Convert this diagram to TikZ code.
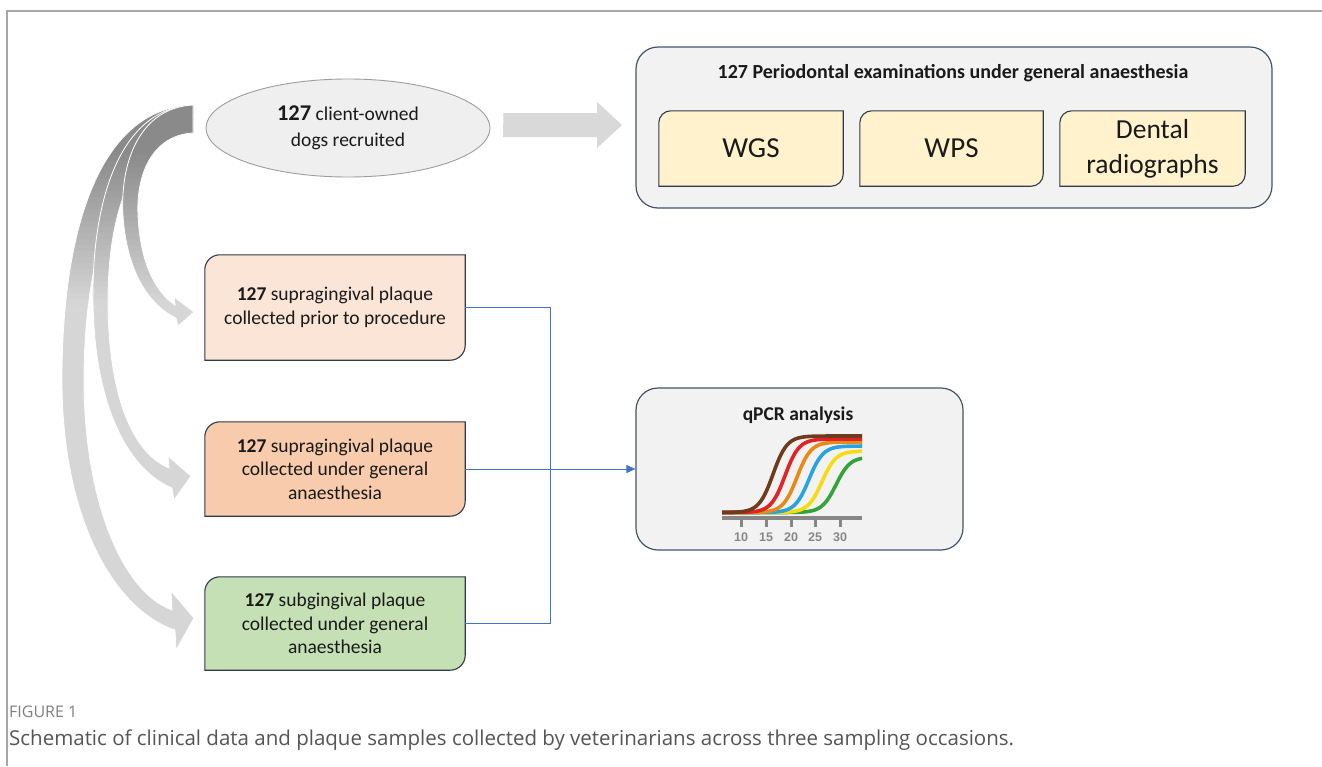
\documentclass[tikz,border=0pt]{standalone}
\usepackage{fontspec}
\setmainfont{Carlito}
\newfontfamily\capfont{Open Sans}
\newfontfamily\axisfont{Liberation Sans}
\usetikzlibrary{shapes.geometric,calc,arrows.meta}
\definecolor{framegray}{HTML}{A6A6A6}
\definecolor{boxfill}{HTML}{F2F2F2}
\definecolor{boxedge}{HTML}{44546A}
\definecolor{ellfill}{HTML}{EFEFEF}
\definecolor{elledge}{HTML}{9E9E9E}
\definecolor{yel}{HTML}{FFF2CC}
\definecolor{peach}{HTML}{FBE5D6}
\definecolor{salmon}{HTML}{F8CBAD}
\definecolor{mint}{HTML}{C5E0B4}
\definecolor{darkedge}{HTML}{2F3A4A}
\definecolor{connblue}{HTML}{4472C4}
\definecolor{arlight}{HTML}{D6D6D6}
\definecolor{ardark}{HTML}{8A8A8A}
\definecolor{blockgray}{HTML}{D9D9D9}
\definecolor{txt}{HTML}{1A1A1A}
\definecolor{axgray}{HTML}{878787}
\definecolor{qbrown}{HTML}{6E3B1E}
\definecolor{qred}{HTML}{E32224}
\definecolor{qorange}{HTML}{E88A17}
\definecolor{qblue}{HTML}{29A3DC}
\definecolor{qyellow}{HTML}{F7DB12}
\definecolor{qgreen}{HTML}{34A33A}
\definecolor{capgray}{HTML}{7F7F7F}
\definecolor{captext}{HTML}{555555}
\pgfdeclarelayer{back}
\pgfdeclarelayer{mid}
\pgfsetlayers{back,mid,main}
% round-diagonal-corner rectangle behind node #1, style #2, radius #3
\newcommand\rdshape[3]{%
  \path[#2] ($(#1.north west)+(0,#3)$)
    .. controls ($(#1.north west)+(0,0.45*#3)$) and ($(#1.north west)+(0.45*#3,0)$) .. ($(#1.north west)+(#3,0)$)
    -- (#1.north east) -- ($(#1.south east)+(0,-#3)$)
    .. controls ($(#1.south east)+(0,-0.45*#3)$) and ($(#1.south east)+(-0.45*#3,0)$) .. ($(#1.south east)+(-#3,0)$)
    -- (#1.south west) -- cycle;}
\begin{document}
\begin{tikzpicture}[x=1pt,y=-1pt,
  bigbox/.style={draw=boxedge, line width=1.2pt, fill=boxfill, rounded corners=22pt, inner sep=0pt},
  tbox/.style={inner sep=0pt, align=center, text=txt},
  diagline/.style={draw=darkedge, line width=1.1pt},
  conn/.style={draw=connblue, line width=0.9pt},
  carrow/.style={fill=arlight, draw=white, line width=0.8pt, path picture={
     \foreach \i in {0,...,34}{%
       \pgfmathsetmacro\yy{95+6*\i}%
       \pgfmathsetmacro\pc{max(0,min(100,(300-\yy)/150*100))}%
       \fill[ardark!\pc!arlight] (0,\yy) rectangle (260,\yy+7);}}},
  curve/.style={line width=3.6pt}
]
\useasboundingbox (0,0) rectangle (1322,766);
\begin{pgfonlayer}{back}
\fill[white] (0,0) rectangle (1322,766);
\end{pgfonlayer}
% frame
\draw[framegray, line width=1.2pt] (7,766) -- (7,11) -- (1322,11);

% big boxes
\begin{pgfonlayer}{back}
\node[bigbox, minimum width=636pt, minimum height=161pt] (exam) at (954,127.5) {};
\node[bigbox, minimum width=327pt, minimum height=162pt] (qpcr) at (799.5,469) {};
\end{pgfonlayer}

% ellipse
\node[ellipse, draw=elledge, line width=0.9pt, fill=ellfill, minimum width=284pt, minimum height=98pt, inner sep=0pt, align=center, text=txt, font=\fontsize{19.5}{26}\selectfont] (dogs) at (348,128)
 {{\fontsize{22.5}{26}\selectfont\bfseries 127} client-owned\\dogs recruited};

% block arrow
\fill[blockgray] ($(dogs.east)+(13,-15)$) coordinate (ba) -- (597,113) -- (597,102) -- (622,125) -- (597,148) -- (597,137) -- (503,137) -- cycle;

% exam title and inner boxes
\node[tbox, font=\fontsize{20}{22}\selectfont\bfseries] (title) at (953,73) {127 Periodontal examinations under general anaesthesia};
\node[tbox, minimum width=184pt, minimum height=75pt, font=\fontsize{29}{34}\selectfont] (wgs) at (751,148.5) {WGS};
\node[tbox, minimum width=183pt, minimum height=75pt, font=\fontsize{29}{34}\selectfont] (wps) at (951.5,148.5) {WPS};
\node[tbox, minimum width=185pt, minimum height=75pt, font=\fontsize{27.5}{35}\selectfont] (rad) at (1152.5,148.5) {Dental\\radiographs};

% sample boxes
\node[tbox, minimum width=260pt, minimum height=105pt, font=\fontsize{19.5}{23.5}\selectfont] (s1) at (335,307.5) {\textbf{127} supragingival plaque\\collected prior to procedure};
\node[tbox, minimum width=260pt, minimum height=94pt, font=\fontsize{19.5}{23.5}\selectfont] (s2) at (335,469) {\textbf{127} supragingival plaque\\collected under general\\anaesthesia};
\node[tbox, minimum width=260pt, minimum height=93pt, font=\fontsize{19.5}{23.5}\selectfont] (s3) at (335,623.5) {\textbf{127} subgingival plaque\\collected under general\\anaesthesia};

\begin{pgfonlayer}{mid}
\rdshape{wgs}{diagline, fill=yel}{12}
\rdshape{wps}{diagline, fill=yel}{12}
\rdshape{rad}{diagline, fill=yel}{12}
\rdshape{s1}{diagline, fill=peach}{15}
\rdshape{s2}{diagline, fill=salmon}{15}
\rdshape{s3}{diagline, fill=mint}{15}
\end{pgfonlayer}

% connectors
\coordinate (jx) at (550,0);
\draw[conn] (s1.east) -- (s1.east -| jx) -- (s3.east -| jx) -- (s3.east);
\draw[conn, -{Triangle[length=9pt,width=8pt]}] (s2.east) -- (qpcr.west);

% curved grey arrows
\path[carrow] (193,105) .. controls (95,108) and (62,240) .. (62,380) .. controls (62,520) and (115,610) .. (175,630)
  -- (176,650) -- (194,618) -- (171,591) -- (172,610)
  .. controls (122,592) and (84,500) .. (84,380) .. controls (84,250) and (120,140) .. (193,133) -- cycle;
\path[carrow] (193,105) .. controls (120,108) and (92,200) .. (93,300) .. controls (94,400) and (125,468) .. (172,488)
  -- (174,500) -- (191,476) -- (168,456) -- (169,468)
  .. controls (130,452) and (108,390) .. (108,300) .. controls (108,200) and (140,135) .. (193,133) -- cycle;
\path[carrow] (193,105) .. controls (138,108) and (120,165) .. (123,215) .. controls (126,265) and (145,303) .. (176,318)
  -- (178,326) -- (194,312) -- (174,297) -- (175,305)
  .. controls (155,292) and (140,262) .. (138,215) .. controls (136,170) and (155,135) .. (193,133) -- cycle;

% qPCR
\node[tbox, font=\fontsize{19.5}{22}\selectfont\bfseries] (qt) at (798,415) {qPCR analysis};
\foreach \c/\p/\col in {836/457/qgreen, 822/451/qyellow, 809/446/qblue, 797/442/qorange, 785/439/qred, 773/436/qbrown}
  \draw[curve, \col] plot[domain=722:862, samples=70, smooth] (\x, {512.5 - (512.5-\p)/(1+exp(max(min((\c-\x)/7, 9), -9)))});
\draw[axgray, line width=4pt] (722,518) -- (862,518);
\foreach \t/\lab in {741/10, 766/15, 791/20, 815/25, 840/30}{
  \draw[axgray, line width=3pt] (\t,518) -- (\t,527);
  \node[font=\axisfont\bfseries\fontsize{12.5}{14}\selectfont, text=axgray, inner sep=0pt] (tick\lab) at (\t,537) {\lab};
}

% caption
\node[anchor=west, inner sep=0pt, font=\capfont\fontsize{16}{18}\selectfont, text=capgray] (figlab) at (9,712) {FIGURE 1};
\node[anchor=west, inner sep=0pt, font=\capfont\fontsize{20.5}{22}\selectfont, text=captext] (cap) at (9,740) {Schematic of clinical data and plaque samples collected by veterinarians across three sampling occasions.};
\end{tikzpicture}
\end{document}
